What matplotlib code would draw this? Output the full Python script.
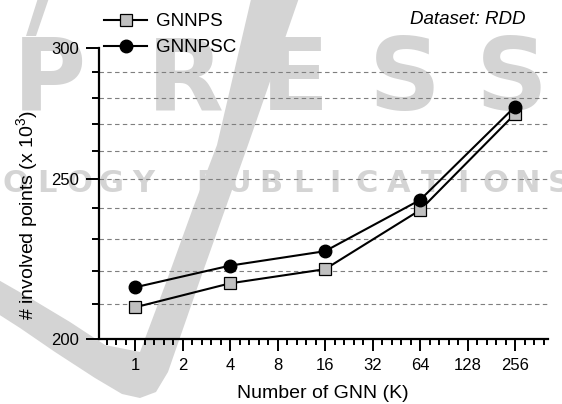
import numpy as np
import matplotlib
matplotlib.use("Agg")
import matplotlib.pyplot as plt
from matplotlib.patches import Polygon
from matplotlib.ticker import FixedLocator, FixedFormatter, NullFormatter

# data
gnn_k = [1, 4, 16, 64, 256]
gnnps = [209.1, 216.2, 220.5, 239.4, 273.7]
gnnpsc = [215.0, 221.6, 226.1, 242.8, 276.5]
x_ticks = [1, 2, 4, 8, 16, 32, 64, 128, 256]
y_major = [200, 250, 300]
y_minor = [210, 220, 230, 240, 260, 270, 280, 290]
y_grid = [210, 220, 230, 240, 250, 260, 270, 280, 290]

W, H = 562, 404
WM_GRAY = "#d4d4d4"

plt.rcParams['font.family'] = ['Liberation Sans', 'DejaVu Sans']
plt.rcParams['mathtext.fontset'] = 'custom'
plt.rcParams['mathtext.rm'] = 'Liberation Sans'


def px(x, y):
    # pixel position (y counted from top) -> figure fraction
    return x / W, 1 - y / H


fig = plt.figure(figsize=(W / 100, H / 100), dpi=100)
fig.patch.set_facecolor("white")

# --- publisher watermark, behind everything ---
swoosh = [(300, -5), (248, 145), (200, 280), (168, 372), (156, 392),
          (140, 398), (122, 394), (95, 378), (55, 352), (20, 328),
          (-5, 312), (-5, 278), (30, 298), (70, 322), (105, 345),
          (140, 352), (167, 280), (193, 208), (217, 145), (252, -5)]
fig.add_artist(Polygon([px(*p) for p in swoosh], closed=True, fc=WM_GRAY,
                       ec="none", zorder=-3))
stroke = [(38, -2), (49, -2), (36, 36), (26, 36)]
fig.add_artist(Polygon([px(*p) for p in stroke], closed=True, fc=WM_GRAY,
                       ec="none", zorder=-3))
for ch, cx in zip("PRESS", [50, 185, 295, 405, 512]):
    fig.text(*px(cx, 110), ch, ha="center", va="baseline", fontsize=72,
             fontweight="bold", family="DejaVu Sans", color=WM_GRAY,
             zorder=-2)
band = "TECHNOLOGY PUBLICATIONS"
for i, ch in enumerate(band):
    cx = 559 - (len(band) - 1 - i) * 32
    if ch == " " or cx < 10:
        continue
    fig.text(*px(cx, 192), ch, ha="center", va="baseline", fontsize=22,
             fontweight="bold", family="DejaVu Sans", color=WM_GRAY,
             zorder=-2)

# --- chart ---
ax = fig.add_axes([99 / W, (H - 339.3) / H, (548.3 - 99) / W,
                   (339.3 - 48) / H])
ax.set_facecolor("none")

for v in y_grid:
    ax.axhline(v, color="#7f7f7f", lw=0.8, ls=(0, (4, 3)), zorder=1)

ax.plot(gnn_k, gnnps, "-s", color="black", lw=1.5, mfc="#c0c0c0",
        mec="black", ms=8, mew=0.9, label="GNNPS", zorder=3)
ax.plot(gnn_k, gnnpsc, "-o", color="black", lw=1.5, mfc="black",
        mec="black", ms=9, label="GNNPSC", zorder=4)

ax.set_xscale("log", base=2)
ax.set_xlim(2 ** -0.758, 2 ** 8.7)
ax.xaxis.set_major_locator(FixedLocator(x_ticks))
ax.xaxis.set_major_formatter(FixedFormatter([str(t) for t in x_ticks]))
ax.xaxis.set_minor_locator(FixedLocator(
    [2 ** (k / 5) for k in range(-4, 45) if k % 5]))
ax.xaxis.set_minor_formatter(NullFormatter())

ax.set_yscale("log")
ax.set_ylim(200, 300)
ax.yaxis.set_major_locator(FixedLocator(y_major))
ax.yaxis.set_major_formatter(FixedFormatter([str(t) for t in y_major]))
ax.yaxis.set_minor_locator(FixedLocator(y_minor))
ax.yaxis.set_minor_formatter(NullFormatter())

for s in ["top", "right"]:
    ax.spines[s].set_visible(False)
for s in ["left", "bottom"]:
    ax.spines[s].set_linewidth(1.6)

ax.tick_params(axis="x", which="major", direction="out", length=8.6,
               width=1.4, labelsize=12, pad=5)
ax.tick_params(axis="x", which="minor", direction="out", length=4.3,
               width=1.4)
ax.tick_params(axis="y", which="major", direction="out", length=9.4,
               width=1.4, labelsize=12, pad=5)
ax.tick_params(axis="y", which="minor", direction="out", length=5,
               width=1.4)

ax.legend(loc="upper left", bbox_to_anchor=px(104, 13),
          bbox_transform=fig.transFigure, frameon=False, fontsize=13.5,
          handlelength=2.3, handletextpad=0.5, labelspacing=0.48,
          borderpad=0, borderaxespad=0)

fig.text(*px(525, 20), "Dataset: RDD", ha="right", va="center",
         style="italic", fontsize=13.5)
fig.text(*px(28, 215), "# involved points (x 10$^3$)", rotation=90,
         ha="center", va="center", fontsize=14)
fig.text(*px(323, 398), "Number of GNN (K)", ha="center", va="baseline",
         fontsize=14)

fig.savefig("out.png", dpi=100)
